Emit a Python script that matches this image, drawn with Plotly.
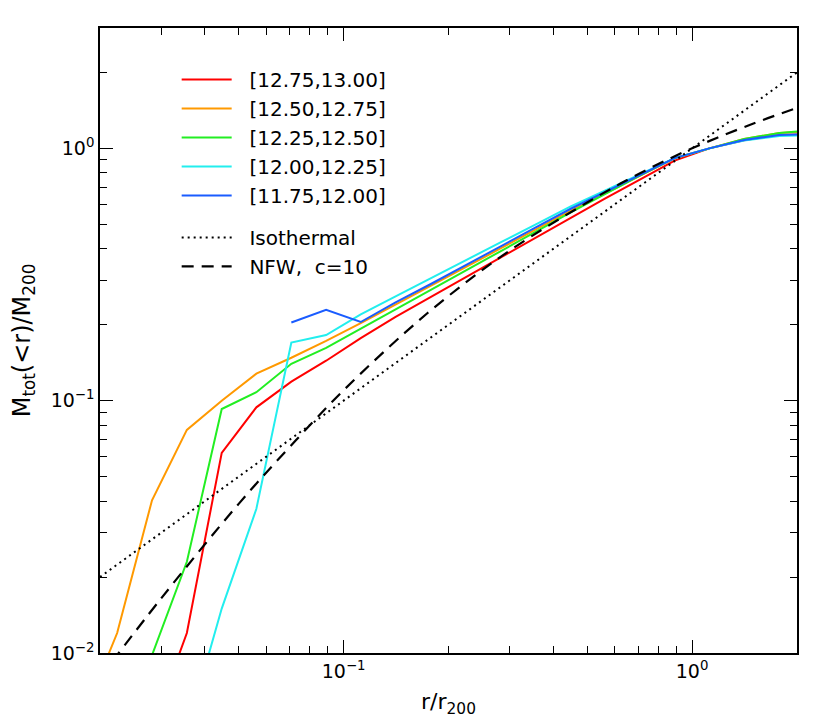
import plotly.graph_objects as go

# radius bins (r/r200) and cumulative mass profiles
r_bins = [0.0178, 0.0224, 0.0282, 0.0355, 0.0447, 0.0562, 0.0708, 0.0891, 0.112,
          0.141, 0.178, 0.224, 0.282, 0.355, 0.447, 0.562, 0.708, 0.891, 1.12,
          1.41, 1.78, 2.24]

m_1275 = [None, 0.002, 0.005, 0.0120, 0.0621, 0.0941, 0.119, 0.144, 0.177,
          0.215, 0.258, 0.308, 0.370, 0.444, 0.532, 0.632, 0.752, 0.894, 1.00,
          1.077, 1.13, 1.14]
m_1250 = [0.0055, 0.0120, 0.0403, 0.0766, 0.100, 0.128, 0.148, 0.1726, 0.203,
          0.240, 0.285, 0.338, 0.401, 0.476, 0.565, 0.662, 0.780, 0.914, 1.00,
          1.09, 1.15, 1.17]
m_1225 = [None, 0.004, 0.0098, 0.0230, 0.0927, 0.108, 0.140, 0.162, 0.193,
          0.231, 0.275, 0.327, 0.390, 0.465, 0.556, 0.658, 0.780, 0.915, 1.00,
          1.09, 1.15, 1.18]
m_1200 = [None, None, None, 0.0049, 0.0150, 0.0373, 0.170, 0.182, 0.220,
          0.259, 0.305, 0.360, 0.424, 0.499, 0.587, 0.680, 0.790, 0.915, 1.00,
          1.075, 1.12, 1.13]
m_1175 = [None, None, None, None, None, None, 0.204, 0.229, 0.205,
          0.245, 0.290, 0.345, 0.410, 0.485, 0.575, 0.672, 0.785, 0.915, 1.00,
          1.08, 1.13, 1.14]

bin_labels = ["[12.75,13.00]", "[12.50,12.75]", "[12.25,12.50]",
              "[12.00,12.25]", "[11.75,12.00]"]
colors = ["#ff0000", "#ff9900", "#22ee22", "#22eeee", "#1a5cff"]

# reference profiles
iso_r = [0.02, 2.0]
iso_m = [0.02, 2.0]
nfw_r = [0.02, 0.03, 0.05, 0.07, 0.1, 0.15, 0.2, 0.3, 0.5, 0.7, 1.0, 1.5, 2.0]
nfw_m = [0.008, 0.0165, 0.039, 0.0655, 0.11, 0.186, 0.26, 0.394, 0.61,
         0.79, 1.0, 1.255, 1.446]

x_ticks = [0.1, 1]
x_ticktext = ["10<sup>\u22121</sup>", "10<sup>0</sup>"]
x_minor = [0.02, 0.03, 0.04, 0.05, 0.06, 0.07, 0.08, 0.09,
           0.2, 0.3, 0.4, 0.5, 0.6, 0.7, 0.8, 0.9, 2]
y_ticks = [0.01, 0.1, 1]
y_ticktext = ["10<sup>\u22122</sup>", "10<sup>\u22121</sup>", "10<sup>0</sup>"]
y_minor = [0.02, 0.03, 0.04, 0.05, 0.06, 0.07, 0.08, 0.09,
           0.2, 0.3, 0.4, 0.5, 0.6, 0.7, 0.8, 0.9, 2, 3]

pad = "\u00a0\u00a0"  # small gap between legend swatch and label

fig = go.Figure()
for m, lab, col in zip([m_1275, m_1250, m_1225, m_1200, m_1175], bin_labels, colors):
    fig.add_trace(go.Scatter(x=r_bins, y=m, mode="lines", name=pad + lab,
                             line=dict(color=col, width=2),
                             legendgroup="bins", connectgaps=False))

fig.add_trace(go.Scatter(x=iso_r, y=iso_m, mode="lines", name=pad + "Isothermal",
                         line=dict(color="black", width=2, dash="2px,4px"),
                         legendgroup="ref"))
fig.add_trace(go.Scatter(x=nfw_r, y=nfw_m, mode="lines", name=pad + "NFW,  c=10",
                         line=dict(color="black", width=2.2, dash="12px,8px"),
                         legendgroup="ref", line_shape="spline"))

axis_common = dict(
    type="log", showline=True, linecolor="black", linewidth=1.5, mirror="allticks",
    ticks="inside", ticklen=13, tickwidth=1.3, tickcolor="black",
    showgrid=False, zeroline=False, automargin=False,
    tickfont=dict(family="DejaVu Sans", size=19, color="black"),
)

fig.update_xaxes(
    **axis_common,
    range=[-1.699, 0.301],
    tickmode="array", tickvals=x_ticks, ticktext=x_ticktext,
    minor=dict(tickmode="array", tickvals=x_minor, ticks="inside", ticklen=7,
               tickwidth=1.3, tickcolor="black", showgrid=False),
    title=dict(text="r/r<sub>200</sub>", font=dict(family="DejaVu Sans", size=22),
               standoff=13),
)
fig.update_yaxes(
    **axis_common,
    range=[-2, 0.477],
    tickmode="array", tickvals=y_ticks, ticktext=y_ticktext,
    minor=dict(tickmode="array", tickvals=y_minor, ticks="inside", ticklen=7,
               tickwidth=1.3, tickcolor="black", showgrid=False),
    title=dict(text="M<sub>tot</sub>(&lt;r)/M<sub>200</sub>",
               font=dict(family="DejaVu Sans", size=24), standoff=17),
)

fig.update_layout(
    width=822, height=710,
    margin=dict(l=92, r=33, t=20, b=65),
    paper_bgcolor="white", plot_bgcolor="white",
    font=dict(family="DejaVu Sans", size=19, color="black"),
    legend=dict(x=0.11, y=0.949, xanchor="left", yanchor="top",
                bgcolor="rgba(0,0,0,0)", traceorder="grouped",
                tracegroupgap=13, itemwidth=50,
                font=dict(family="DejaVu Sans", size=20)),
)

fig.write_html("out.html")
